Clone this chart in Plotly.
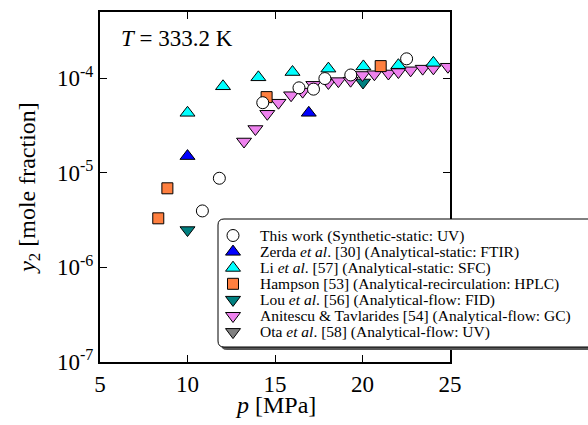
import plotly.graph_objects as go
import math

# ---- data ----
this_p = [10.85, 11.82, 14.3, 16.37, 17.2, 17.85, 19.33, 22.52]
this_y = [3.95e-6, 8.75e-6, 5.5e-5, 7.9e-5, 7.65e-5, 9.9e-5, 1.08e-4, 1.6e-4]

zerda_p = [10.0, 16.93]
zerda_y = [1.5e-5, 4.3e-5]

li_p = [10.0, 12.03, 14.05, 16.0, 18.05, 20.05, 22.05, 24.05]
li_y = [4.3e-5, 8.2e-5, 1.02e-4, 1.16e-4, 1.26e-4, 1.33e-4, 1.37e-4, 1.45e-4]

hampson_p = [8.33, 8.85, 14.52, 21.04]
hampson_y = [3.3e-6, 6.85e-6, 6.3e-5, 1.34e-4]

lou_p = [10.0, 20.03]
lou_y = [2.48e-6, 9.0e-5]

anitescu_p = [13.23, 13.88, 14.56, 15.2, 15.92, 16.58, 17.19, 18.05, 18.62, 19.32,
              20.0, 20.68, 21.48, 22.05, 22.75, 23.44, 24.05, 24.88]
anitescu_y = [2.14e-5, 2.9e-5, 4.2e-5, 5.5e-5, 6.6e-5, 7.2e-5, 8.5e-5, 8.9e-5, 9.3e-5, 9.4e-5,
              1.08e-4, 1.1e-4, 1.12e-4, 1.16e-4, 1.21e-4, 1.26e-4, 1.27e-4, 1.32e-4]

# no Ota point is visible in the picture
ota_p = []
ota_y = []

legend_labels = [
    "This work (Synthetic-static: UV)",
    "Zerda <i>et al</i>. [30] (Analytical-static: FTIR)",
    "Li <i>et al</i>. [57] (Analytical-static: SFC)",
    "Hampson [53] (Analytical-recirculation: HPLC)",
    "Lou <i>et al</i>. [56] (Analytical-flow: FID)",
    "Anitescu &amp; Tavlarides [54] (Analytical-flow: GC)",
    "Ota <i>et al</i>. [58] (Analytical-flow: UV)",
]

x_ticks = [5, 10, 15, 20, 25]
y_ticks = [1e-7, 1e-6, 1e-5, 1e-4]
y_ticktext = ["10<sup>-7</sup>", "10<sup>-6</sup>", "10<sup>-5</sup>", "10<sup>-4</sup>"]

FONT = "Liberation Serif"

# (legend index, p, y, symbol, color, size) ; drawn in this order
series = [
    (6, ota_p, ota_y, "triangle-down", "#808080", 13),
    (4, lou_p, lou_y, "triangle-down", "#008080", 13),
    (5, anitescu_p, anitescu_y, "triangle-down", "#EE82EE", 13),
    (1, zerda_p, zerda_y, "triangle-up", "#0000FF", 13),
    (2, li_p, li_y, "triangle-up", "#00FFFF", 13),
    (3, hampson_p, hampson_y, "square", "#FF7F3F", 11),
    (0, this_p, this_y, "circle", "#FFFFFF", 12),
]

fig = go.Figure()
for idx, px, py, sym, col, sz in series:
    fig.add_trace(go.Scatter(
        x=px, y=py, mode="markers", name=legend_labels[idx], showlegend=False,
        marker=dict(symbol=sym, color=col, size=sz, line=dict(color="black", width=1)),
    ))

axis_common = dict(
    showline=True, linecolor="black", linewidth=2, mirror="ticks",
    ticks="inside", ticklen=7, tickwidth=1, tickcolor="black",
    showgrid=False, zeroline=False,
    tickfont=dict(family=FONT, size=23, color="black"),
)

PLOT_L, PLOT_T, PLOT_W, PLOT_H = 100, 12, 350, 350
def px2paper_x(px):
    return (px - PLOT_L) / PLOT_W
def px2paper_y(py):
    return (PLOT_T + PLOT_H - py) / PLOT_H

fig.update_xaxes(range=[5, 25], tickvals=x_ticks, **axis_common)
fig.update_yaxes(type="log", range=[-7, math.log10(5e-4)], tickvals=y_ticks, ticktext=y_ticktext,
                 title=dict(text="<i>y</i><sub>2</sub> [mole fraction]", font=dict(family=FONT, size=24, color="black"), standoff=15),
                 **axis_common)

# x-axis title
fig.add_annotation(x=0.5, y=px2paper_y(405), xref="paper", yref="paper", xanchor="center", yanchor="middle",
                   text="<i>p</i> [MPa]", showarrow=False,
                   font=dict(family=FONT, size=24, color="black"))

fig.add_annotation(x=px2paper_x(119), y=px2paper_y(38), xref="paper", yref="paper", xanchor="left", yanchor="middle",
                   text="<i>T</i> = 333.2 K", showarrow=False,
                   font=dict(family=FONT, size=23, color="black"))

# ---- hand-built legend (box with shadow, keys, labels) ----
box_left, box_top, box_h, box_w, rad = 218, 219, 128, 400, 6
def rounded(dx, dy):
    x0, x1, y0, y1 = dx, dx + box_w, dy, dy - box_h
    return (f"M {x0+rad},{y0} L {x1-rad},{y0} Q {x1},{y0} {x1},{y0-rad} "
            f"L {x1},{y1+rad} Q {x1},{y1} {x1-rad},{y1} L {x0+rad},{y1} "
            f"Q {x0},{y1} {x0},{y1+rad} L {x0},{y0-rad} Q {x0},{y0} {x0+rad},{y0} Z")

common_anchor = dict(xref="paper", yref="paper", xsizemode="pixel", ysizemode="pixel",
                     xanchor=px2paper_x(box_left), yanchor=px2paper_y(box_top), layer="above")
fig.add_shape(type="path", path=rounded(3, -3), fillcolor="#555555", line=dict(width=0), **common_anchor)
fig.add_shape(type="path", path=rounded(0, 0), fillcolor="white", line=dict(color="black", width=1), **common_anchor)

row0, row_step, key_x, text_x = 235.5, 16.1, 233, 258
style_by_idx = {idx: (sym, col) for idx, _, _, sym, col, _ in series}
for i, lab in enumerate(legend_labels):
    ry = row0 + i * row_step
    sym, col = style_by_idx[i]
    anc = dict(xref="paper", yref="paper", xsizemode="pixel", ysizemode="pixel",
               xanchor=px2paper_x(key_x), yanchor=px2paper_y(ry), layer="above",
               fillcolor=col, line=dict(color="black", width=1))
    if sym == "circle":
        fig.add_shape(type="circle", x0=-6, x1=6, y0=-6, y1=6, **anc)
    elif sym == "square":
        fig.add_shape(type="rect", x0=-5.5, x1=5.5, y0=-5.5, y1=5.5, **anc)
    elif sym == "triangle-up":
        fig.add_shape(type="path", path="M -7.5,-3.5 L 7.5,-3.5 L 0,6.5 Z", **anc)
    else:
        fig.add_shape(type="path", path="M -7.5,3.5 L 7.5,3.5 L 0,-6.5 Z", **anc)
    fig.add_annotation(x=px2paper_x(text_x), y=px2paper_y(ry), xref="paper", yref="paper",
                       xanchor="left", yanchor="middle", text=lab, showarrow=False,
                       font=dict(family=FONT, size=15.5, color="black"))

fig.update_layout(
    width=588, height=425,
    font=dict(family=FONT, color="black"),
    margin=dict(l=PLOT_L, r=588 - PLOT_L - PLOT_W, t=PLOT_T, b=425 - PLOT_T - PLOT_H, autoexpand=False),
    paper_bgcolor="white", plot_bgcolor="white",
    showlegend=False,
)

fig.write_html("out.html")
